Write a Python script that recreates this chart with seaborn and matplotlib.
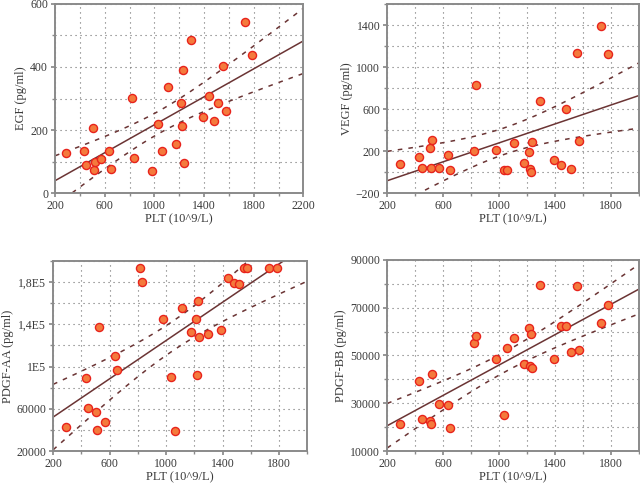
import numpy as np
import pandas as pd
import matplotlib
matplotlib.use("Agg")
import matplotlib.pyplot as plt
import seaborn as sns
from matplotlib.ticker import MultipleLocator, FixedLocator, FixedFormatter

# PLT (10^9/L), shared by all four panels
plt_values = [289, 431, 447, 504, 512, 523, 571, 635, 652, 818, 832, 980, 1033, 1060, 1111,
              1178, 1213, 1219, 1227, 1235, 1297, 1391, 1442, 1482, 1515, 1555, 1574, 1727, 1783]

egf = [128, 134, 90, 206, 72, 99, 108, 133, 76, 303, 113, 71, 219, 134, 338,
       157, 286, 213, 390, 96, 486, 243, 308, 230, 285, 402, 260, 544, 437]

vegf = [80, 141, 36, 233, 39, 310, 39, 163, 20, 198, 836, 211, 17, 17, 275,
        84, 195, 29, 4, 284, 683, 112, 71, 603, 33, 1135, 294, 1390, 1129]

pdgf_aa = [42950, 89470, 60550, 57400, 40120, 137250, 47980, 110200, 96390, 193500, 179700,
           144500, 89800, 39500, 155800, 132500, 144800, 92300, 161800, 128100, 130600,
           134100, 184100, 179100, 178400, 193500, 193500, 193500, 193500]

pdgf_bb = [21210, 39200, 23430, 22600, 21210, 42110, 29650, 29380, 19830, 55260, 58030,
           48340, 24950, 53050, 57200, 46260, 61350, 45570, 59000, 44740, 79480,
           48480, 62460, 62320, 51520, 79200, 52350, 63560, 71320]

# axis settings per panel
panel_labels = ["EGF (pg/ml)", "VEGF (pg/ml)", "PDGF-AA (pg/ml)", "PDGF-BB (pg/ml)"]
x_limits = [(200, 2200), (200, 2000), (200, 2000), (200, 2000)]
y_limits = [(0, 600), (-200, 1600), (20000, 200000), (10000, 90000)]
x_ticks = [[200, 600, 1000, 1400, 1800, 2200], [200, 600, 1000, 1400, 1800],
           [200, 600, 1000, 1400, 1800], [200, 600, 1000, 1400, 1800]]
y_ticks = [[0, 200, 400, 600], [-200, 200, 600, 1000, 1400],
           [20000, 60000, 100000, 140000, 180000], [10000, 30000, 50000, 70000, 90000]]
y_tick_labels = [["0", "200", "400", "600"], ["\u2212200", "200", "600", "1000", "1400"],
                 ["20000", "60000", "1E5", "1,4E5", "1,8E5"],
                 ["10000", "30000", "50000", "70000", "90000"]]
y_minor = [100, 200, 20000, 10000]

sns.set_theme(style="white")
plt.rcParams["font.family"] = ["Liberation Serif", "DejaVu Serif"]

LINE_COLOR = "#6b3434"
GRID_COLOR = "#6e6e6e"
SPINE_COLOR = "#8a8a8a"
TEXT_COLOR = "#3a3a3a"

fig = plt.figure(figsize=(6.4, 4.83), dpi=100)
positions = [
    [0.086, 0.600, 0.388, 0.392],
    [0.605, 0.600, 0.393, 0.391],
    [0.083, 0.066, 0.397, 0.394],
    [0.605, 0.066, 0.393, 0.396],
]

series = [egf, vegf, pdgf_aa, pdgf_bb]

for i, values in enumerate(series):
    ax = fig.add_axes(positions[i])
    df = pd.DataFrame({"plt": plt_values, "val": values})

    ax.set_xlim(*x_limits[i])
    ax.set_ylim(*y_limits[i])

    # fitted line (extends over the whole x range)
    sns.regplot(data=df, x="plt", y="val", ax=ax, scatter=False, ci=None,
                truncate=False, line_kws={"color": LINE_COLOR, "lw": 1.1, "zorder": 2})

    # 95% confidence band of the mean, drawn dashed
    x = np.asarray(plt_values, dtype=float)
    y = np.asarray(values, dtype=float)
    n = len(x)
    slope, intercept = np.polyfit(x, y, 1)
    resid = y - (slope * x + intercept)
    s = np.sqrt(np.sum(resid ** 2) / (n - 2))
    sxx = np.sum((x - x.mean()) ** 2)
    grid = np.linspace(*x_limits[i], 200)
    fit = slope * grid + intercept
    half = 2.052 * s * np.sqrt(1.0 / n + (grid - x.mean()) ** 2 / sxx)
    for band in (fit + half, fit - half):
        ax.plot(grid, band, color=LINE_COLOR, lw=1.1, ls=(0, (3, 4)), zorder=2)

    sns.scatterplot(data=df, x="plt", y="val", ax=ax, s=34, color="#f47a3c",
                    edgecolor="#e8231c", linewidth=1.0, zorder=3)

    ax.set_xlim(*x_limits[i])
    ax.set_ylim(*y_limits[i])
    ax.xaxis.set_major_locator(FixedLocator(x_ticks[i]))
    ax.xaxis.set_minor_locator(MultipleLocator(200))
    ax.yaxis.set_major_locator(FixedLocator(y_ticks[i]))
    ax.yaxis.set_major_formatter(FixedFormatter(y_tick_labels[i]))
    ax.yaxis.set_minor_locator(MultipleLocator(y_minor[i]))

    ax.grid(True, which="both", color=GRID_COLOR, lw=0.8, ls=(0, (1, 3.5)))
    ax.set_axisbelow(True)

    ax.tick_params(which="both", direction="out", colors=TEXT_COLOR, labelsize=8.5,
                   bottom=True, left=True, pad=2)
    ax.tick_params(which="major", length=3, color=SPINE_COLOR)
    ax.tick_params(which="minor", length=2, color=SPINE_COLOR)
    for sp in ax.spines.values():
        sp.set_color(SPINE_COLOR)
        sp.set_linewidth(1.4)

    ax.set_xlabel("PLT (10^9/L)", fontsize=9, color=TEXT_COLOR, labelpad=1)
    ax.set_ylabel(panel_labels[i], fontsize=9, color=TEXT_COLOR, labelpad=2)

fig.savefig("out.png", dpi=100)
